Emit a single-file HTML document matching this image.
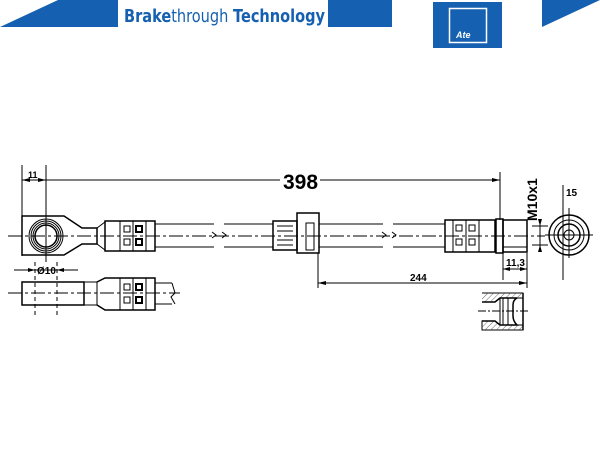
<!DOCTYPE html><html><head><style>body{margin:0;background:#fff}svg{display:block}</style></head><body>
<svg width="600" height="450" viewBox="0 0 600 450" xmlns="http://www.w3.org/2000/svg" font-family="Liberation Sans, sans-serif">
<defs><pattern id="h" width="4" height="4" patternUnits="userSpaceOnUse" patternTransform="rotate(45)"><line x1="0" y1="0" x2="0" y2="4" stroke="#444" stroke-width="0.8"/></pattern></defs>
<polygon points="0,27 58,0 118,0 118,27" fill="#1560b0"/>
<text x="124" y="22" font-size="17.5" fill="#1560b0" font-family="DejaVu Sans, sans-serif" textLength="201" lengthAdjust="spacingAndGlyphs"><tspan font-weight="bold">Brake</tspan>through <tspan font-weight="bold">Technology</tspan></text>
<rect x="328" y="0" width="64" height="27" fill="#1560b0"/>
<rect x="433" y="2" width="69" height="46" fill="#1560b0"/>
<rect x="449.5" y="8.5" width="37" height="34" fill="none" stroke="#fff" stroke-width="1.5"/>
<text x="456" y="38" font-size="9" fill="#fff" font-style="italic" font-weight="bold">Ate</text>
<polygon points="542,0 600,0 542,27" fill="#1560b0"/>
<g stroke="#000" fill="none" stroke-width="1">
<line x1="22" y1="165" x2="22" y2="256"/>
<line x1="46" y1="165" x2="46" y2="262"/>
<line x1="22" y1="180" x2="280" y2="180"/><line x1="320" y1="180" x2="500" y2="180"/>
<line x1="500" y1="172" x2="500" y2="220"/>
<line x1="8" y1="236" x2="545" y2="236" stroke-dasharray="14,3,3,3"/>
<path d="M22,216 H64 L82,228 H97 V244 H82 L64,255 H22 Z" stroke-width="1.5"/>
<circle cx="46" cy="236" r="17"/><circle cx="46" cy="236" r="15"/><circle cx="46" cy="236" r="13"/><circle cx="46" cy="236" r="11" stroke-width="1.5"/>
<line x1="97" y1="228" x2="105" y2="222"/><line x1="97" y1="244" x2="105" y2="250"/>
<rect x="105" y="221" width="50" height="30" stroke-width="1.5"/>
<line x1="120" y1="221" x2="120" y2="251"/><line x1="133" y1="221" x2="133" y2="251"/><line x1="146" y1="221" x2="146" y2="251"/>
<rect x="124" y="226" width="6" height="6"/><rect x="124" y="239" width="6" height="6"/><rect x="136" y="226" width="6" height="6" stroke-width="2"/><rect x="136" y="239" width="6" height="6" stroke-width="2"/>
<path d="M155,224 H214 M155,247 H214 M224,224 H273 M224,247 H273"/>
<path d="M212,232 l4,3 -4,3 M222,232 l4,3 -4,3"/>
<rect x="273" y="221" width="24" height="29" stroke-width="1.5"/>
<line x1="277" y1="226" x2="293" y2="226"/><line x1="277" y1="231" x2="293" y2="231"/><line x1="277" y1="240" x2="293" y2="240"/><line x1="277" y1="245" x2="293" y2="245"/>
<rect x="297" y="213" width="22" height="40" stroke-width="1.5"/>
<rect x="306" y="223" width="8" height="27"/>
<line x1="318" y1="253" x2="318" y2="288"/>
<path d="M319,224 H383 M319,247 H383 M393,224 H445 M393,247 H445"/>
<path d="M382,232 l4,3 -4,3 M392,232 l4,3 -4,3"/>
<rect x="445" y="220" width="50" height="32" stroke-width="1.5"/>
<line x1="453" y1="220" x2="453" y2="252"/><line x1="466" y1="220" x2="466" y2="252"/><line x1="479" y1="220" x2="479" y2="252"/>
<rect x="456" y="225" width="6" height="6"/><rect x="456" y="239" width="6" height="6"/><rect x="469" y="225" width="6" height="6"/><rect x="469" y="239" width="6" height="6"/>
<rect x="496" y="219" width="7" height="34" stroke-width="1.5"/>
<rect x="503" y="220" width="24" height="32" stroke-width="1.5"/>
<line x1="503" y1="247" x2="527" y2="247"/>
<line x1="503" y1="280" x2="503" y2="253"/><line x1="527" y1="253" x2="527" y2="272"/>
<line x1="503" y1="269" x2="527" y2="269"/>
<line x1="318" y1="283" x2="527" y2="283"/><line x1="527" y1="272" x2="527" y2="288"/>
<line x1="532" y1="226" x2="548" y2="226"/><line x1="532" y1="245" x2="548" y2="245"/><line x1="540" y1="219" x2="540" y2="252"/>
<circle cx="569" cy="235" r="20" stroke-width="1.5"/><circle cx="569" cy="235" r="15"/><circle cx="569" cy="235" r="11" stroke-width="1.5"/><circle cx="569" cy="235" r="5"/>
<line x1="545" y1="235" x2="593" y2="235"/><line x1="569" y1="208" x2="569" y2="258"/>
<line x1="563" y1="185" x2="563" y2="280"/>
<line x1="8" y1="293" x2="180" y2="293" stroke-dasharray="14,3,3,3"/>
<line x1="14" y1="270" x2="78" y2="270"/><line x1="35" y1="262" x2="35" y2="318" stroke-dasharray="4,3"/><line x1="57" y1="262" x2="57" y2="318" stroke-dasharray="4,3"/>
<path d="M22,282 H84 V305 H22 Z" stroke-width="1.5"/>
<line x1="84" y1="282" x2="97" y2="282"/><line x1="84" y1="305" x2="97" y2="305"/><line x1="97" y1="282" x2="97" y2="305"/>
<path d="M97,282 L105,278 H155 V310 H105 L97,305" stroke-width="1.5"/>
<line x1="120" y1="278" x2="120" y2="310"/><line x1="133" y1="278" x2="133" y2="310"/><line x1="146" y1="278" x2="146" y2="310"/>
<rect x="124" y="284" width="6" height="6"/><rect x="124" y="297" width="6" height="6"/><rect x="136" y="284" width="6" height="6" stroke-width="2"/><rect x="136" y="297" width="6" height="6" stroke-width="2"/>
<path d="M155,283 H172 M155,304 H172 M172,283 l3,10 -4,4 4,7"/>
<!-- port section -->
<path d="M482,293 H523 V298 H517 Q513,300 513,305 V316 Q513,321 517,325 H523 V330 H482 V321 H495 L500,325 H513 M482,302 H495 L500,298 H513 M500,298 V325" fill="none"/>
<path d="M482,293 H523 V298 H500 L495,302 H482 Z" fill="url(#h)" stroke="none"/>
<path d="M482,321 H495 L500,325 H523 V330 H482 Z" fill="url(#h)" stroke="none"/>
<path d="M482,302 H495 L500,298 H517 Q513,300 513,305 V316 Q513,321 517,325 H500 L495,321 H482" stroke-width="1.5"/>
<line x1="503" y1="298" x2="503" y2="325"/><line x1="508" y1="298" x2="508" y2="325"/>
<line x1="523" y1="293" x2="523" y2="330" stroke-width="1.5"/>
<line x1="478" y1="311" x2="528" y2="311" stroke-dasharray="8,2,2,2"/>
</g>
<g fill="#000">
<polygon points="22,180 30,178 30,182"/><polygon points="46,180 38,178 38,182"/>
<polygon points="500,180 492,178 492,182"/>
<polygon points="318,283 326,281 326,285"/><polygon points="527,283 519,281 519,285"/>
<polygon points="503,269 510,267 510,271"/><polygon points="527,269 520,267 520,271"/>
<polygon points="540,226 538,219 542,219"/><polygon points="540,245 538,252 542,252"/>
<polygon points="35,270 28,268 28,272"/><polygon points="57,270 64,268 64,272"/>
</g>
<g font-weight="bold">
<text x="283" y="189" font-size="21">398</text>
<text x="28" y="178" font-size="9">11</text>
<text x="37" y="274" font-size="10">Ø10</text>
<text x="506" y="266" font-size="10">11,3</text>
<text x="410" y="281" font-size="10">244</text>
<text x="566" y="196" font-size="10">15</text>
<text font-size="14" transform="translate(537,221) rotate(-90)">M10x1</text>
</g>
</svg></body></html>
